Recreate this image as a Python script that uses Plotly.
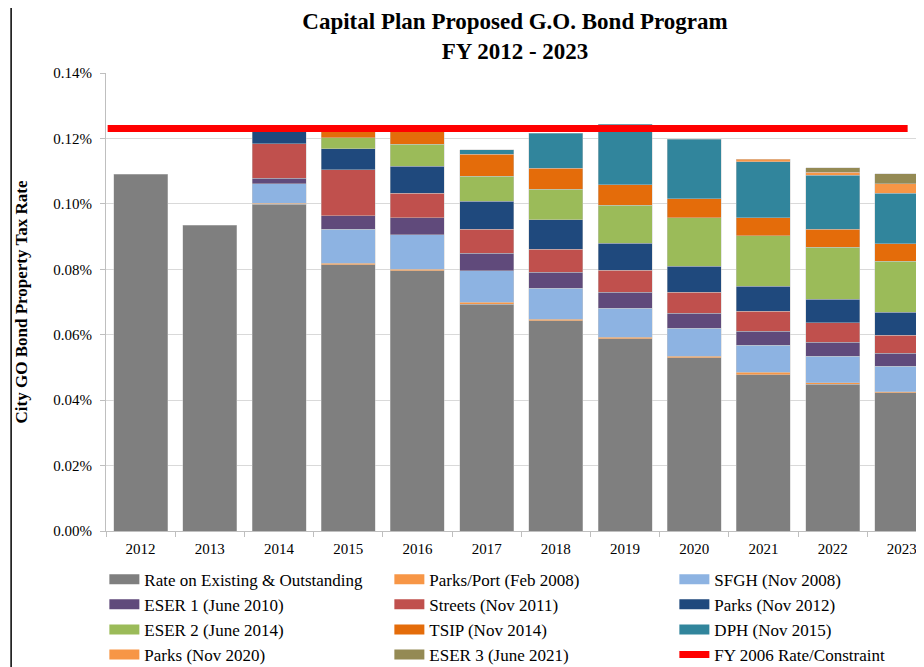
import plotly.graph_objects as go

years = ["2012", "2013", "2014", "2015", "2016", "2017", "2018", "2019", "2020", "2021", "2022", "2023"]

existing   = [0.1090, 0.0935, 0.0999, 0.0814, 0.0796, 0.0693, 0.0643, 0.0588, 0.0530, 0.0478, 0.0449, 0.0422]
parks_port = [0, 0, 0.0003, 0.0004, 0.0004, 0.0007, 0.0005, 0.0004, 0.0004, 0.0007, 0.0004, 0.0003]
sfgh       = [0, 0, 0.0059, 0.0104, 0.0105, 0.0096, 0.0094, 0.0089, 0.0086, 0.0083, 0.0081, 0.0079]
eser1      = [0, 0, 0.0017, 0.0041, 0.0052, 0.0053, 0.0049, 0.0049, 0.0046, 0.0043, 0.0043, 0.0040]
streets    = [0, 0, 0.0105, 0.0141, 0.0075, 0.0073, 0.0070, 0.0067, 0.0064, 0.0061, 0.0059, 0.0055]
parks2012  = [0, 0, 0.0046, 0.0064, 0.0083, 0.0086, 0.0090, 0.0083, 0.0080, 0.0076, 0.0072, 0.0070]
eser2      = [0, 0, 0, 0.0034, 0.0067, 0.0076, 0.0094, 0.0116, 0.0147, 0.0154, 0.0159, 0.0156]
tsip       = [0, 0, 0, 0.0021, 0.0040, 0.0068, 0.0064, 0.0062, 0.0058, 0.0055, 0.0055, 0.0053]
dph        = [0, 0, 0, 0, 0, 0.0014, 0.0107, 0.0186, 0.0183, 0.0171, 0.0165, 0.0155]
parks2020  = [0, 0, 0, 0, 0, 0, 0, 0, 0, 0.0008, 0.0010, 0.0028]
eser3      = [0, 0, 0, 0, 0, 0, 0, 0, 0, 0, 0.0014, 0.0031]
constraint_rate = 0.1230

series_names = [
    "Rate on Existing & Outstanding", "Parks/Port (Feb 2008)", "SFGH (Nov 2008)",
    "ESER 1 (June 2010)", "Streets (Nov 2011)", "Parks (Nov 2012)",
    "ESER 2 (June 2014)", "TSIP (Nov 2014)", "DPH (Nov 2015)",
    "Parks (Nov 2020)", "ESER 3 (June 2021)",
]
series_values = [existing, parks_port, sfgh, eser1, streets, parks2012,
                 eser2, tsip, dph, parks2020, eser3]
series_colors = ["#7f7f7f", "#f79646", "#8db3e2", "#604a7b", "#c0504d", "#1f497d",
                 "#9bbb59", "#e46c0a", "#31859c", "#f79646", "#948a54"]
constraint_name = "FY 2006 Rate/Constraint"

SERIF = "Liberation Serif, Times New Roman, serif"

fig = go.Figure()
for name, vals, col in zip(series_names, series_values, series_colors):
    fig.add_trace(go.Bar(
        x=years, y=[v if v else None for v in vals], name=name,
        marker=dict(color=col, line=dict(color="rgba(200,200,200,0.55)", width=0.8)),
        legendgroup=name, showlegend=False,
    ))

# legend entries with wide swatches
for name, col in zip(series_names, series_colors):
    fig.add_trace(go.Scatter(x=[None], y=[None], mode="lines", name=name,
                             legendgroup=name, line=dict(color=col, width=10)))
fig.add_trace(go.Scatter(x=[None], y=[None], mode="lines", name=constraint_name,
                         line=dict(color="#ff0000", width=7)))

# constraint reference line
fig.add_shape(type="line", xref="x domain", yref="y", x0=0.002, x1=0.98,
              y0=constraint_rate, y1=constraint_rate,
              line=dict(color="#ff0000", width=7), layer="above")
# page border on the left
fig.add_shape(type="line", xref="paper", yref="paper", x0=-0.116, x1=-0.116,
              y0=-0.32, y1=1.17, line=dict(color="black", width=1.5))

fig.update_layout(
    width=916, height=659,
    barmode="stack", bargap=0.22,
    plot_bgcolor="white", paper_bgcolor="white",
    margin=dict(l=98, r=0, t=65, b=136, autoexpand=False),
    title=dict(text="<b>Capital Plan Proposed G.O. Bond Program<br>FY 2012 - 2023</b>",
               x=0.5, xref="paper", xanchor="center", y=0.968, yanchor="top",
               font=dict(family=SERIF, size=23, color="black")),
    font=dict(family=SERIF, size=15, color="black"),
    xaxis=dict(type="category", range=[-0.5, 11.32], showgrid=False, automargin=False,
               showline=True, linecolor="#bfbfbf", linewidth=1,
               ticks="outside", tickson="boundaries", ticklen=5, tickcolor="#bfbfbf",
               ticklabelstandoff=4,
               tickfont=dict(family=SERIF, size=15, color="black")),
    yaxis=dict(range=[0, 0.14], dtick=0.02, tickformat=".2f", ticksuffix="%",
               automargin=False,
               showgrid=True, gridcolor="#d9d9d9", gridwidth=1,
               showline=True, linecolor="#bfbfbf", linewidth=1,
               ticks="outside", ticklen=5, tickcolor="#bfbfbf",
               ticklabelstandoff=5,
               tickfont=dict(family=SERIF, size=15, color="black"),
               title=dict(text="<b>City GO Bond Property Tax Rate</b>", standoff=21,
                          font=dict(family=SERIF, size=17, color="black")),
               zeroline=False),
    legend=dict(orientation="h", x=-0.002, xanchor="left", y=-0.067, yanchor="top",
                entrywidth=240, entrywidthmode="pixels",
                font=dict(family=SERIF, size=17, color="black"),
                bgcolor="rgba(0,0,0,0)", tracegroupgap=0),
)

fig.write_html("out.html")
